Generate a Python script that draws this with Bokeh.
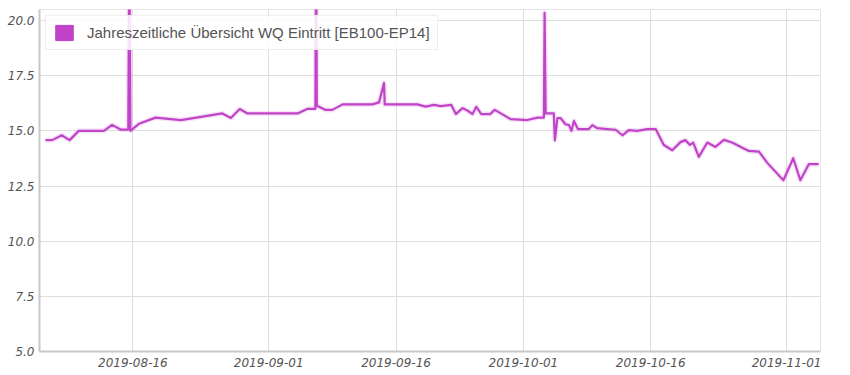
import pandas as pd
from bokeh.plotting import figure
from bokeh.models import (Range1d, FixedTicker, DatetimeTickFormatter, NumeralTickFormatter,
                          Legend, LegendItem, ColumnDataSource)
from bokeh.embed import file_html
from bokeh.resources import INLINE

# ---------------- data ----------------
series_label = "Jahreszeitliche Übersicht WQ Eintritt [EB100-EP14]"

dates = [
    "2019-08-05 17:00", "2019-08-06 12:00", "2019-08-07 15:00", "2019-08-08 13:00",
    "2019-08-09 15:00", "2019-08-12 14:00", "2019-08-13 13:00", "2019-08-14 13:00",
    "2019-08-15 11:00", "2019-08-15 14:00", "2019-08-15 17:00", "2019-08-16 17:00",
    "2019-08-18 16:00", "2019-08-21 16:00", "2019-08-26 13:00", "2019-08-27 13:00",
    "2019-08-28 14:00", "2019-08-29 12:00", "2019-09-04 10:00", "2019-09-05 14:00",
    "2019-09-06 12:00", "2019-09-06 14:00", "2019-09-06 16:00", "2019-09-07 17:00",
    "2019-09-08 12:00", "2019-09-09 17:00", "2019-09-13 05:00", "2019-09-14 00:00",
    "2019-09-14 14:00", "2019-09-14 16:00", "2019-09-18 12:00", "2019-09-19 12:00",
    "2019-09-20 11:00", "2019-09-21 06:00", "2019-09-22 12:00", "2019-09-23 01:00",
    "2019-09-23 20:00", "2019-09-24 12:00", "2019-09-25 00:00", "2019-09-25 11:00",
    "2019-09-26 01:00", "2019-09-27 02:00", "2019-09-27 15:00", "2019-09-29 12:00",
    "2019-10-01 11:00", "2019-10-02 16:00", "2019-10-03 10:00", "2019-10-03 12:00",
    "2019-10-03 15:00", "2019-10-04 14:00", "2019-10-04 17:00", "2019-10-05 00:00",
    "2019-10-05 09:00", "2019-10-05 23:00", "2019-10-06 09:00", "2019-10-06 16:00",
    "2019-10-06 23:00", "2019-10-07 10:00", "2019-10-08 17:00", "2019-10-09 03:00",
    "2019-10-09 17:00", "2019-10-10 21:00", "2019-10-11 21:00", "2019-10-12 16:00",
    "2019-10-13 10:00", "2019-10-14 10:00", "2019-10-15 14:00", "2019-10-16 14:00",
    "2019-10-17 13:00", "2019-10-18 13:00", "2019-10-19 12:00", "2019-10-20 02:00",
    "2019-10-20 15:00", "2019-10-21 00:00", "2019-10-21 16:00", "2019-10-22 16:00",
    "2019-10-23 15:00", "2019-10-24 15:00", "2019-10-25 14:00", "2019-10-27 13:00",
    "2019-10-28 18:00", "2019-10-29 17:00", "2019-10-31 15:00", "2019-11-01 19:00",
    "2019-11-02 15:00", "2019-11-03 15:00", "2019-11-04 19:00",
]

values = [
    14.58, 14.58, 14.80, 14.58,
    15.00, 15.00, 15.27, 15.06,
    15.06, 24.00, 15.00, 15.32,
    15.60, 15.49, 15.79, 15.58,
    15.99, 15.79, 15.79, 16.00,
    16.00, 24.00, 16.14, 15.95,
    15.95, 16.20, 16.20, 16.29,
    17.17, 16.20, 16.20, 16.10,
    16.18, 16.12, 16.18, 15.76,
    16.03, 15.90, 15.76, 16.09,
    15.76, 15.76, 15.95, 15.53,
    15.49, 15.60, 15.60, 20.35,
    15.79, 15.79, 14.57, 15.58,
    15.58, 15.30, 15.26, 15.00,
    15.45, 15.08, 15.08, 15.26,
    15.12, 15.08, 15.05, 14.80,
    15.03, 15.00, 15.08, 15.08,
    14.36, 14.12, 14.49, 14.58,
    14.36, 14.47, 13.82, 14.47,
    14.27, 14.59, 14.47, 14.09,
    14.06, 13.56, 12.76, 13.76,
    12.76, 13.49, 13.49,
]

x_tick_labels = ["2019-08-16", "2019-09-01", "2019-09-16", "2019-10-01", "2019-10-16", "2019-11-01"]
y_ticks = [5.0, 7.5, 10.0, 12.5, 15.0, 17.5, 20.0]
x_start, x_end = "2019-08-05 00:00", "2019-11-05 00:00"
y_start, y_end = 5.0, 20.5

# ---------------- style ----------------
COLOR = "#c043c9"
TICK_COLOR = "#545454"
GRID_COLOR = "#dedede"

xs = pd.to_datetime(dates)
src = ColumnDataSource(dict(x=xs, y=values))

p = figure(width=840, height=372, x_axis_type="datetime",
           x_range=Range1d(pd.Timestamp(x_start), pd.Timestamp(x_end)),
           y_range=Range1d(y_start, y_end),
           output_backend="svg", toolbar_location=None,
           min_border_left=39, min_border_right=20, min_border_top=9, min_border_bottom=21)

p.background_fill_color = "white"
p.border_fill_color = "white"
p.outline_line_color = "#e4e4e4"
p.outline_line_width = 1

# shadow + line
p.line("x", "y", source=src, line_color=COLOR, line_width=5, line_alpha=0.15, line_join="round")
p.line("x", "y", source=src, line_color=COLOR, line_width=2.2, line_join="round")

# axes
x_ticks_ms = [pd.Timestamp(s).value // 10**6 for s in x_tick_labels]
p.xaxis.ticker = FixedTicker(ticks=x_ticks_ms)
fmt = "%Y-%m-%d"
p.xaxis.formatter = DatetimeTickFormatter(hours=fmt, days=fmt, months=fmt, years=fmt)
p.yaxis.ticker = FixedTicker(ticks=y_ticks)
p.yaxis.formatter = NumeralTickFormatter(format="0.0")

for ax in (p.xaxis, p.yaxis):
    ax.axis_line_color = "#c8c8c8"
    ax.axis_line_width = 2
    ax.major_tick_line_color = None
    ax.minor_tick_line_color = None
    ax.major_tick_out = 0
    ax.major_tick_in = 0
    ax.major_label_text_font = "DejaVu Sans"
    ax.major_label_text_font_size = "12px"
    ax.major_label_text_font_style = "italic"
    ax.major_label_text_color = TICK_COLOR
p.xaxis.major_label_standoff = 6
p.yaxis.major_label_standoff = 5

p.xgrid.grid_line_color = GRID_COLOR
p.ygrid.grid_line_color = GRID_COLOR

# legend (box swatch like flot); the swatch renderer holds no visible point
nan = float("nan")
dummy = p.rect(x="x", y="y", width=1, height=1,
               source=ColumnDataSource(dict(x=[nan], y=[nan])),
               fill_color=COLOR, line_color=COLOR)
legend = Legend(items=[LegendItem(label=series_label, renderers=[dummy])], location="top_left")
legend.margin = 6
legend.padding = 7
legend.glyph_width = 22
legend.glyph_height = 19
legend.label_standoff = 12
legend.label_text_font = "Liberation Sans"
legend.label_text_font_size = "15px"
legend.label_text_color = TICK_COLOR
legend.border_line_color = "#dddddd"
legend.background_fill_alpha = 0.85
p.add_layout(legend)

open("out.html", "w").write(file_html(p, INLINE))
